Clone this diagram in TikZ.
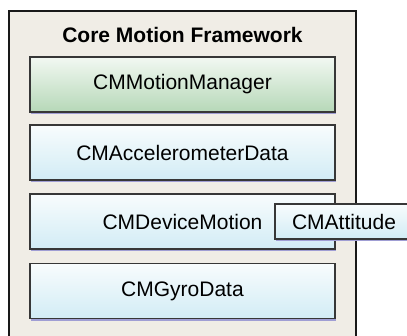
\documentclass[tikz,border=0pt]{standalone}
\usepackage{fontspec}
\setmainfont{Liberation Sans}
\usetikzlibrary{shadows}
\definecolor{framebg}{RGB}{240,237,230}
\definecolor{framelc}{RGB}{25,25,25}
\definecolor{boxlc}{RGB}{55,55,55}
\definecolor{greentop}{RGB}{242,248,242}
\definecolor{greenbot}{RGB}{182,216,184}
\definecolor{bluetop}{RGB}{248,252,253}
\definecolor{bluebot}{RGB}{210,236,245}
\definecolor{shadowc}{RGB}{160,158,212}
\begin{document}
\begin{tikzpicture}[x=1pt,y=-1pt,
  framebox/.style={draw=framelc,line width=2pt,fill=framebg},
  titletext/.style={font=\fontsize{21}{25}\selectfont\bfseries,inner sep=0pt},
  classbox/.style={draw=boxlc,line width=1.2pt,inner sep=0pt,
    font=\fontsize{21}{25}\selectfont,
    drop shadow={shadow xshift=1.2pt,shadow yshift=-2.4pt,fill=shadowc,opacity=1}},
  mgrbox/.style={classbox,minimum width=305pt,minimum height=55pt,
    top color=greentop,bottom color=greenbot},
  databox/.style={classbox,minimum width=305pt,minimum height=55pt,
    top color=bluetop,bottom color=bluebot},
  attbox/.style={classbox,minimum width=138pt,minimum height=35pt,
    top color=bluetop,bottom color=bluebot}
]
\useasboundingbox (0,0) rectangle (407,335);
\clip (0,0) rectangle (407,335);
\draw[framebox] (9,11) rectangle (356,360);
\node[titletext] (title) at (182.5,35) {Core Motion Framework};
\node[mgrbox] (mgr) at (182.5,84.5) {CMMotionManager};
\node[databox] (acc) at (182.5,152.5) {CMAccelerometerData};
\node[databox] (dev) at (182.5,221.5) {CMDeviceMotion};
\node[databox] (gyro) at (182.5,291) {CMGyroData};
\node[attbox] (att) at (344,221.5) {CMAttitude};
\end{tikzpicture}
\end{document}
